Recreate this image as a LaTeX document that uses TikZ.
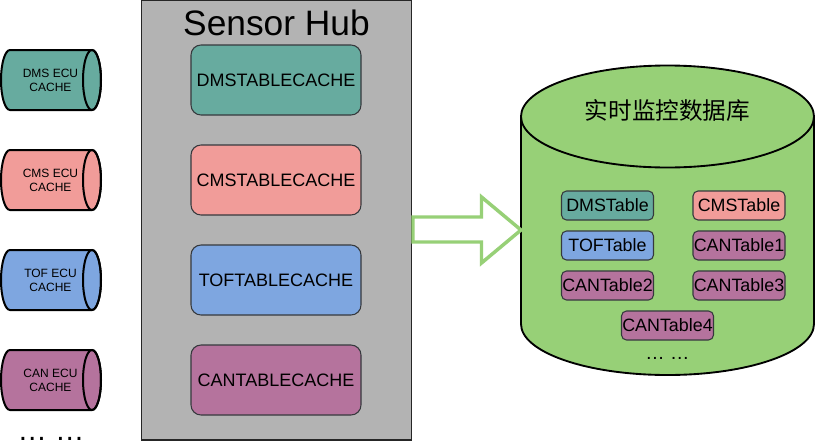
\documentclass[tikz,border=0pt]{standalone}
\usepackage{fontspec}
\usetikzlibrary{calc}
\setmainfont{Liberation Sans}
\newfontfamily\cjkfont{Noto Sans CJK SC}
\definecolor{dmsc}{HTML}{67AB9F}
\definecolor{cmsc}{HTML}{F19C99}
\definecolor{tofc}{HTML}{7EA6E0}
\definecolor{canc}{HTML}{B5739D}
\definecolor{dbc}{HTML}{97D077}
\definecolor{hubc}{HTML}{B3B3B3}
\definecolor{edgec}{HTML}{36393D}
\tikzset{
  hubbox/.style={draw=edgec, line width=0.8pt, rounded corners=7.5pt, minimum width=127.5pt, minimum height=52.5pt, inner sep=0pt, font=\fontsize{13.5}{15}\selectfont},
  tblbox/.style={draw=edgec, line width=0.8pt, rounded corners=3.75pt, minimum width=69pt, minimum height=21.75pt, inner sep=0pt, font=\fontsize{13.4}{15}\selectfont},
  cyltext/.style={align=center, inner sep=0pt, font=\fontsize{9}{10.5}\selectfont},
  cylline/.style={draw=black, line width=1.5pt},
}
\begin{document}
\begin{tikzpicture}[x=0.75pt,y=-0.75pt]
\useasboundingbox (0,0) rectangle (815,447);
\fill[white] (0,0) rectangle (815,447);
% left ECU caches (horizontal cylinders)
\foreach \yy/\cc/\nm/\lab in {50/dmsc/dmsecu/DMS, 150/cmsc/cmsecu/CMS, 250/tofc/tofecu/TOF, 350/canc/canecu/CAN}{
  \filldraw[cylline, fill=\cc] (92,\yy) -- (10,\yy)
     arc[start angle=-90, end angle=-270, x radius=9, y radius=30]
     -- (92,\yy+60) arc[start angle=90, end angle=-90, x radius=9, y radius=30] -- cycle;
  \draw[cylline] (92,\yy+30) ellipse[x radius=9, y radius=30];
  \node[cyltext] (\nm) at (50.5,\yy+30) {\lab\ ECU\\CACHE};
}
\node[anchor=base, inner sep=0pt, font=\fontsize{22}{24}\selectfont] (leftdots) at (51,440) {… …};
% Sensor Hub
\filldraw[fill=hubc, draw=black!85, line width=0.8pt] (141.5,0.5) rectangle (411.5,440);
\node[anchor=base, inner sep=0pt, font=\fontsize{26.5}{28}\selectfont] (hubtitle) at (276.5,35) {Sensor Hub};
\node[hubbox, fill=dmsc] (dmsbox) at (276,80) {DMSTABLECACHE};
\node[hubbox, fill=cmsc] (cmsbox) at (276,180) {CMSTABLECACHE};
\node[hubbox, fill=tofc] (tofbox) at (276,280) {TOFTABLECACHE};
\node[hubbox, fill=canc] (canbox) at (276,380) {CANTABLECACHE};
% database cylinder
\filldraw[fill=dbc, draw=black, line width=1.4pt] (521,116.5) -- (521,324)
   arc[start angle=180, end angle=0, x radius=146.5, y radius=51]
   -- (814,116.5) arc[start angle=0, end angle=-180, x radius=146.5, y radius=51] -- cycle;
\draw[black, line width=1.4pt] (521,116.5) arc[start angle=180, end angle=0, x radius=146.5, y radius=51];
\node[anchor=base, inner sep=0pt, font=\cjkfont\fontsize{17.7}{20}\selectfont] (dbtitle) at (667.5,119.5) {实时监控数据库};
\node[tblbox, fill=dmsc] (dmst) at (607.5,205.5) {DMSTable};
\node[tblbox, fill=cmsc] (cmst) at (739,205.5) {CMSTable};
\node[tblbox, fill=tofc] (toft) at (607.5,245.5) {TOFTable};
\node[tblbox, fill=canc] (cant1) at (739,245.5) {CANTable1};
\node[tblbox, fill=canc] (cant2) at (607.5,285.5) {CANTable2};
\node[tblbox, fill=canc] (cant3) at (739,285.5) {CANTable3};
\node[tblbox, fill=canc] (cant4) at (667.5,325.5) {CANTable4};
\node[anchor=base, inner sep=0pt, font=\fontsize{14.5}{16}\selectfont] (dbdots) at (667.5,359) {… …};
% block arrow
\coordinate (arrtail) at (413,229.5);
\coordinate (arrtip) at (521,230);
\filldraw[fill=white, draw=dbc, line width=2.6pt, line join=miter]
  ($(arrtail)+(0,-12.5)$) -- (481.5,217) -- (481.5,197) -- (arrtip) -- (481.5,263) -- (481.5,242) -- ($(arrtail)+(0,12.5)$) -- cycle;
\end{tikzpicture}
\end{document}
